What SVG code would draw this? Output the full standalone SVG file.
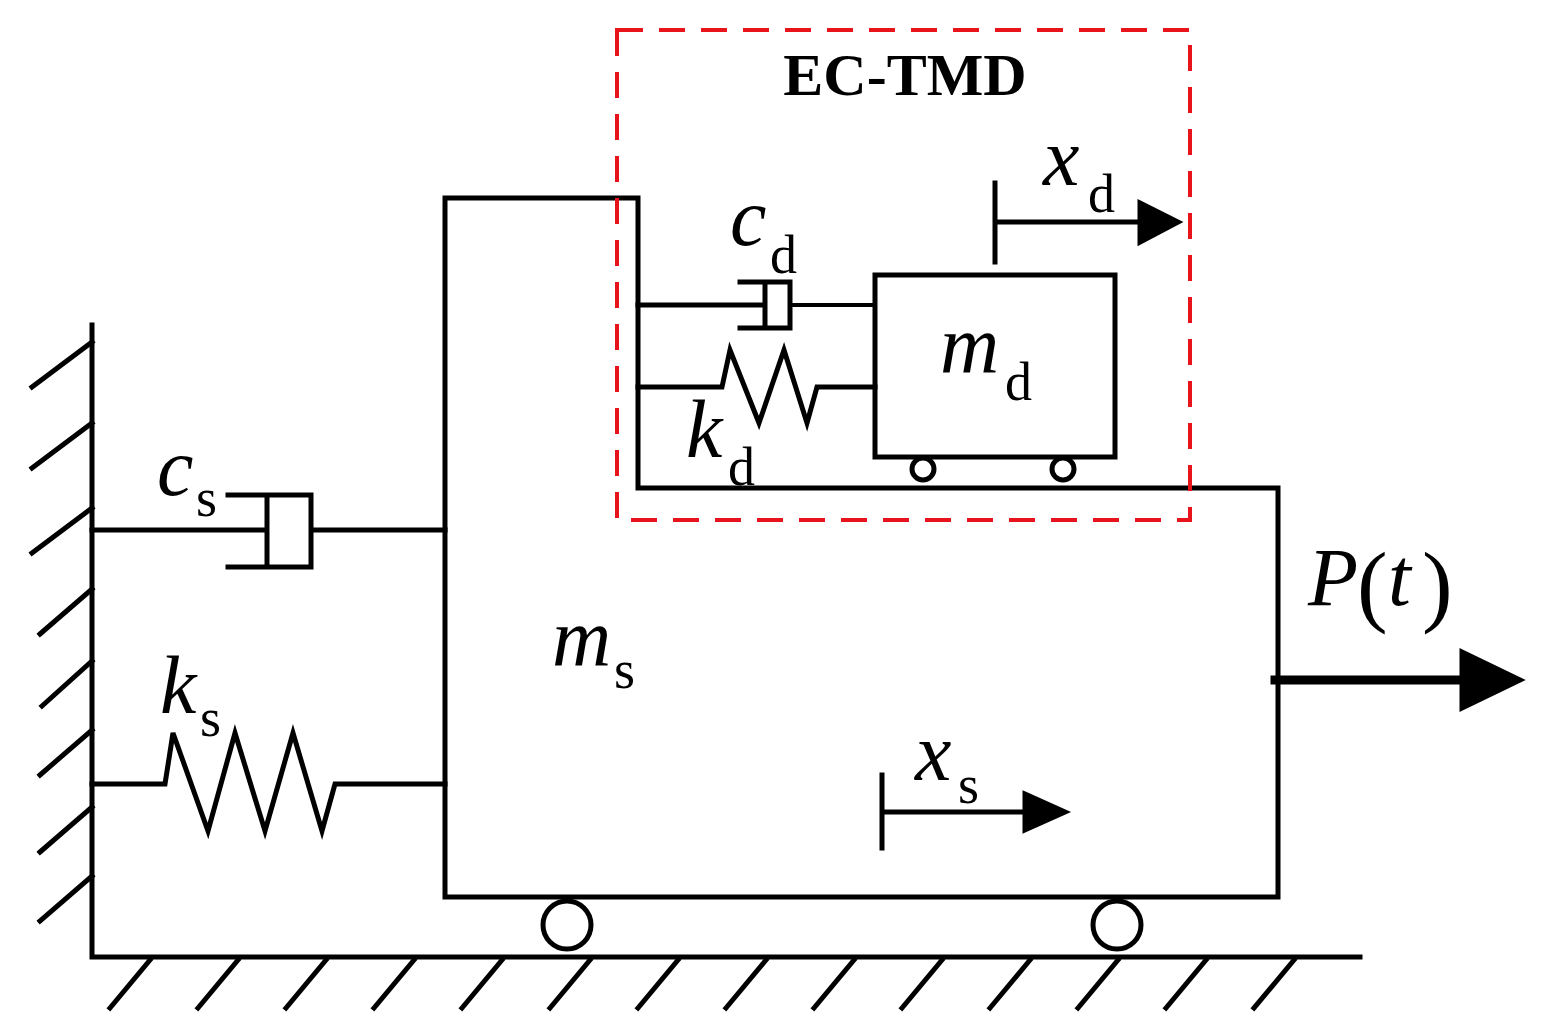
<svg xmlns="http://www.w3.org/2000/svg" width="1544" height="1034" viewBox="0 0 1544 1034">
<style>
.l{fill:none;stroke:#000;stroke-width:5;stroke-linecap:square;stroke-linejoin:miter}
.t{stroke-width:4}
.i{font-family:"Liberation Serif",serif;font-style:italic;font-size:82px}
.s{font-family:"Liberation Serif",serif;font-size:54px}
</style>
<rect width="1544" height="1034" fill="#fff"/>
<g id="ground" class="l">
<path d="M92 325V957H1360"/>
<path d="M92 342L32 387M92 423L32 468M92 508L32 553M92 589L40 634M92 661L42 706M92 730L40 775M92 807L40 852M92 876L40 921"/>
<path d="M150 960L110 1008M238 960L198 1008M326 960L286 1008M414 960L374 1008M502 960L462 1008M590 960L550 1008M678 960L638 1008M766 960L726 1008M854 960L814 1008M942 960L902 1008M1030 960L990 1008M1118 960L1078 1008M1206 960L1166 1008M1294 960L1254 1008"/>
</g>
<g id="ms" class="l">
<path d="M445 897V198H638V488H1278V897Z"/>
<circle cx="567" cy="925" r="24"/>
<circle cx="1117" cy="925" r="24"/>
<text class="i" x="552" y="665" stroke="none" fill="#000">m</text><text class="s" x="614" y="688" stroke="none" fill="#000">s</text>
</g>
<g id="md" class="l">
<rect x="875" y="275" width="240" height="182"/>
<circle cx="923" cy="469" r="11"/>
<circle cx="1063" cy="469" r="11"/>
<text class="i" x="940" y="372" stroke="none" fill="#000">m</text><text class="s" x="1005" y="400" stroke="none" fill="#000">d</text>
</g>
<g id="connectors" class="l">
<path d="M92 530H267M267 495V567M228 495H311V567H228M311 530H445"/>
<path d="M92 784H165L173 733L208 831L235 733L265 831L293 733L322 831L335 784H445"/>
<path d="M638 305H765M765 282V328M740 282H790V328H740"/>
<path class="t" d="M790 305H875"/>
<path d="M638 387H722L730 350L759 423L784 350L807 423L817 387H875"/>
<path d="M995 183V262M995 222H1142"/>
<path d="M1140 203L1178 222L1140 242Z" fill="#000"/>
<path d="M882 775V848M882 812H1027"/>
<path d="M1025 794L1065 812L1025 830Z" fill="#000"/>
<path d="M1275 680H1465" stroke-width="9"/>
<path d="M1462 652L1520 680L1462 708Z" fill="#000"/>
</g>
<g id="ectmd">
<rect x="617" y="30" width="573" height="490" fill="none" stroke="#e8141c" stroke-width="4" stroke-dasharray="26 16"/>
<text x="905" y="95" text-anchor="middle" font-family="Liberation Serif,serif" font-weight="bold" font-size="60">EC-TMD</text>
</g>
<g id="labels" fill="#000">
<text class="i" x="1043" y="185">x</text><text class="s" x="1088" y="212">d</text>
<text class="i" x="730" y="245">c</text><text class="s" x="770" y="273">d</text>
<text class="i" x="686" y="457">k</text><text class="s" x="728" y="485">d</text>
<text class="i" x="157" y="495">c</text><text class="s" x="196" y="516">s</text>
<text class="i" x="160" y="713">k</text><text class="s" x="200" y="736">s</text>
<text class="i" x="915" y="780">x</text><text class="s" x="958" y="803">s</text>
<text class="i" x="1308" y="605">P</text>
<text x="1357" y="615" font-family="Liberation Serif,serif" font-size="92">(</text>
<text class="i" x="1388" y="605">t</text>
<text x="1422" y="615" font-family="Liberation Serif,serif" font-size="92">)</text>
</g>
</svg>
